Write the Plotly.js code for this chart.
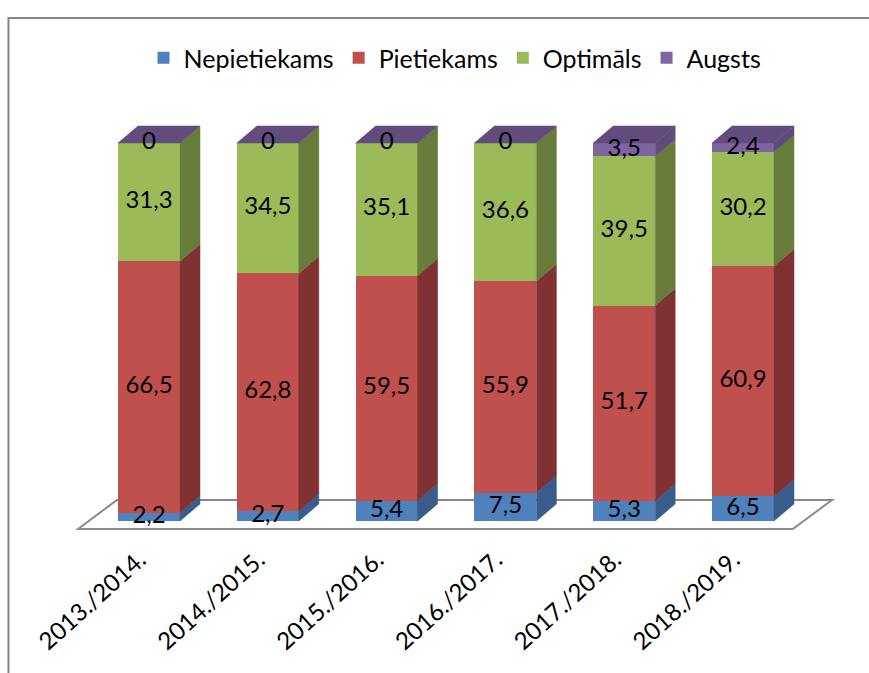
<!DOCTYPE html>
<html>
<head>
<meta charset="utf-8">
<script src="https://cdn.plot.ly/plotly-3.0.1.min.js"></script>
<style>html,body{margin:0;padding:0;background:#fff;}#chart{width:869px;height:673px;}</style>
</head>
<body>
<div id="chart"></div>
<script>
// ---- data ----
const categories = ['2013./2014.', '2014./2015.', '2015./2016.', '2016./2017.', '2017./2018.', '2018./2019.'];
const seriesNames = ['Nepietiekams', 'Pietiekams', 'Optimāls', 'Augsts'];
const nepietiekams = [2.2, 2.7, 5.4, 7.5, 5.3, 6.5];
const pietiekams = [66.5, 62.8, 59.5, 55.9, 51.7, 60.9];
const optimals = [31.3, 34.5, 35.1, 36.6, 39.5, 30.2];
const augsts = [0, 0, 0, 0, 3.5, 2.4];

// ---- style ----
const frontColors = ['#4F81BD', '#C0504D', '#9BBB59', '#8064A2'];
const sideColors = ['#385D8A', '#7F3231', '#677B3A', '#5F4B7C'];
const topColor = '#624C7E';
const FONT = 'Lato, "Open Sans", sans-serif';
const barWidth = 0.522;   // category units
const depthX = 0.168;     // category units
const depthY = 4.5;       // value units

const series = [nepietiekams, pietiekams, optimals, augsts];
const idx = categories.map((_, i) => i);
const fmt = v => String(v).replace('.', ',');

const traces = [];
// front faces (stacked bars)
series.forEach((vals, s) => {
  traces.push({
    type: 'bar', x: idx, y: vals, name: seriesNames[s], width: barWidth,
    marker: {color: frontColors[s], line: {width: 0}},
    hoverinfo: 'skip', showlegend: true
  });
});

// cumulative bases
const bases = series.map((vals, s) => idx.map(i => series.slice(0, s).reduce((a, arr) => a + arr[i], 0)));
const totals = idx.map(i => series.reduce((a, arr) => a + arr[i], 0));

// side faces
series.forEach((vals, s) => {
  const xs = [], ys = [];
  idx.forEach(i => {
    const xr = i + barWidth / 2;
    const y0 = bases[s][i], y1 = y0 + vals[i];
    if (vals[i] <= 0) return;
    xs.push(xr, xr + depthX, xr + depthX, xr, xr, null);
    ys.push(y0, y0 + depthY, y1 + depthY, y1, y0, null);
  });
  traces.push({
    type: 'scatter', mode: 'lines', x: xs, y: ys, fill: 'toself',
    fillcolor: sideColors[s], line: {color: sideColors[s], width: 0.5},
    hoverinfo: 'skip', showlegend: false
  });
});

// top faces
{
  const xs = [], ys = [];
  idx.forEach(i => {
    const xl = i - barWidth / 2, xr = i + barWidth / 2, t = totals[i];
    xs.push(xl, xr, xr + depthX, xl + depthX, xl, null);
    ys.push(t, t, t + depthY, t + depthY, t, null);
  });
  traces.push({
    type: 'scatter', mode: 'lines', x: xs, y: ys, fill: 'toself',
    fillcolor: topColor, line: {color: topColor, width: 0.5},
    hoverinfo: 'skip', showlegend: false
  });
}

// data labels
{
  const xs = [], ys = [], tx = [];
  series.forEach((vals, s) => {
    idx.forEach(i => {
      xs.push(i);
      ys.push(bases[s][i] + vals[i] / 2);
      tx.push(fmt(vals[i]));
    });
  });
  traces.push({
    type: 'scatter', mode: 'text', x: xs, y: ys, text: tx,
    textposition: 'middle center',
    textfont: {family: FONT, size: 24, color: '#000'},
    hoverinfo: 'skip', showlegend: false
  });
}

const layout = {
  width: 869, height: 673,
  margin: {l: 78, r: 37, t: 105, b: 141},
  paper_bgcolor: '#fff', plot_bgcolor: 'rgba(0,0,0,0)',
  barmode: 'stack',
  font: {family: FONT, color: '#000'},
  xaxis: {
    range: [-0.598, 5.749], showgrid: false, zeroline: false, showline: false,
    tickmode: 'array', tickvals: idx.map(i => i - 0.08), ticktext: categories,
    tickangle: -42, ticks: '', ticklabelstandoff: 8,
    tickfont: {family: FONT, size: 24, color: '#000'}, fixedrange: true
  },
  yaxis: {
    range: [-2.91, 110.05], visible: false, showgrid: false, zeroline: false, fixedrange: true
  },
  legend: {
    orientation: 'h', x: 0.5, xanchor: 'center', y: 1.11, yanchor: 'middle',
    font: {family: FONT, size: 25, color: '#000'}, traceorder: 'normal',
    bgcolor: 'rgba(0,0,0,0)'
  },
  shapes: [
    // floor
    {type: 'path', xref: 'paper', yref: 'paper', layer: 'below',
     path: 'M 0 0.007 L 0.0517 0.075 L 1 0.075 L 0.948 0.007 Z',
     fillcolor: '#fff', line: {color: '#898989', width: 2}},
    // chart border (top and left visible)
    {type: 'rect', xref: 'paper', yref: 'paper', layer: 'below',
     x0: -0.0922, x1: 1.08, y0: -0.4, y1: 1.2037,
     line: {color: '#868686', width: 2}}
  ],
  showlegend: true
};

Plotly.newPlot('chart', traces, layout, {displayModeBar: false, staticPlot: true});
</script>
</body>
</html>
